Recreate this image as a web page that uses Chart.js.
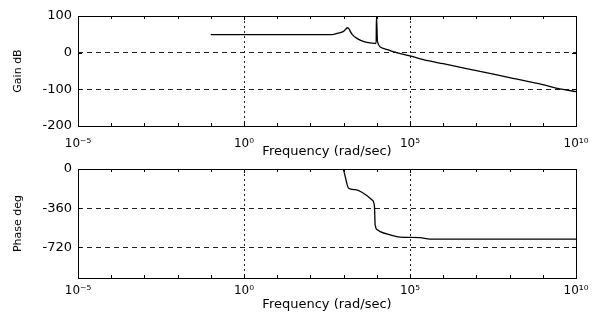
<!DOCTYPE html>
<html>
<head>
<meta charset="utf-8">
<script src="https://cdn.jsdelivr.net/npm/chart.js@4.4.1/dist/chart.umd.min.js"></script>
<style>
  html, body { margin: 0; padding: 0; background: #fff; }
  #wrap { position: relative; width: 606px; height: 318px; }
  canvas { position: absolute; left: 0; }
  #gainChart { top: 0; }
  #phaseChart { top: 155px; }
</style>
</head>
<body>
<div id="wrap">
  <canvas id="gainChart" width="606" height="160" style="width:606px;height:160px"></canvas>
  <canvas id="phaseChart" width="606" height="163" style="width:606px;height:163px"></canvas>
</div>
<script>
// frequency ticks (rad/sec)
const freqTicks = [1e-5, 1, 1e5, 1e10];
const freqTickLabels = ['10⁻⁵', '10⁰', '10⁵', '10¹⁰'];

// gain curve
const gainFreq = [0.1, 447, 676, 1000, 1318, 1800, 2512, 3548, 5012, 7079, 9550, 9772, 9800, 10470, 15500, 30900, 1e5, 3.47e5, 1e6, 1e7, 1e8, 1e9, 3.3e9, 1e10];
const gainDb   = [49, 49, 53, 58, 68, 50, 39, 32, 28, 26, 25, 100, 100, 30, 12, 2.6, -9, -22, -30, -49, -68, -87, -99, -106];
const gainTicks = [100, 0, -100, -200];

// phase curve
const phaseFreq = [0.1, 933, 1413, 2239, 3548, 7244, 8511, 8913, 10470, 12590, 25120, 50120, 2e5, 3.98e5, 1e10];
const phaseDeg  = [0, 0, -177, -190, -213, -284, -345, -513, -559, -574, -604, -625, -630, -644, -644];
const phaseTicks = [0, -360, -720];

const FONT = "'DejaVu Sans', sans-serif";

function toPoints(xs, ys) {
  return xs.map((x, i) => ({ x: x, y: ys[i] }));
}

// frame and inward tick marks, matlab style
const framePlugin = {
  id: 'frame',
  afterDraw(chart) {
    const { ctx, chartArea: a, scales } = chart;
    ctx.save();
    ctx.strokeStyle = '#000';
    ctx.lineWidth = 1;
    ctx.strokeRect(a.left + 0.5, a.top + 0.5, a.right - a.left, a.bottom - a.top);
    ctx.beginPath();
    for (let k = -5; k <= 10; k++) {
      const px = Math.round(scales.x.getPixelForValue(Math.pow(10, k))) + 0.5;
      const len = (k % 5 === 0) ? 4 : 3;
      ctx.moveTo(px, a.top); ctx.lineTo(px, a.top + len);
      ctx.moveTo(px, a.bottom); ctx.lineTo(px, a.bottom - len);
    }
    scales.y.ticks.forEach(t => {
      const py = Math.round(scales.y.getPixelForValue(t.value)) + 0.5;
      ctx.moveTo(a.left, py); ctx.lineTo(a.left + 4, py);
      ctx.moveTo(a.right, py); ctx.lineTo(a.right - 4, py);
    });
    ctx.stroke();
    ctx.restore();
  }
};

function makeChart(id, xs, ys, yMin, yMax, yTicks, yTitle, padTop, padBottom, xAxisHeight, tickPad) {
  return new Chart(document.getElementById(id), {
    type: 'line',
    data: {
      datasets: [{
        data: toPoints(xs, ys),
        borderColor: '#000',
        borderWidth: 1.3,
        pointRadius: 0,
        cubicInterpolationMode: 'monotone',
        fill: false
      }]
    },
    options: {
      responsive: false,
      animation: false,
      layout: { padding: { top: padTop, right: 30, left: 0, bottom: padBottom } },
      plugins: { legend: { display: false }, tooltip: { enabled: false } },
      scales: {
        x: {
          type: 'logarithmic',
          min: 1e-5,
          max: 1e10,
          afterBuildTicks: s => { s.ticks = freqTicks.map(v => ({ value: v })); },
          afterFit: s => { s.height = xAxisHeight; },
          ticks: {
            color: '#000',
            font: { family: FONT, size: 12 },
            padding: tickPad,
            maxRotation: 0,
            autoSkip: false,
            callback: (v, i) => freqTickLabels[i]
          },
          grid: {
            color: ctx => (ctx.index === 1 || ctx.index === 2) ? '#222' : 'rgba(0,0,0,0)',
            lineWidth: 1,
            drawTicks: false
          },
          border: { display: false, dash: [2, 3] },
          title: {
            display: true,
            text: 'Frequency (rad/sec)',
            color: '#000',
            font: { family: FONT, size: 13 },
            padding: { top: 1, bottom: 0 }
          }
        },
        y: {
          min: yMin,
          max: yMax,
          afterBuildTicks: s => { s.ticks = yTicks.map(v => ({ value: v })); },
          afterFit: s => { s.width = 78; },
          ticks: {
            color: '#000',
            font: { family: FONT, size: 13 },
            padding: 6
          },
          grid: {
            color: ctx => (ctx.tick && ctx.tick.value !== yMin && ctx.tick.value !== yMax) ? '#222' : 'rgba(0,0,0,0)',
            lineWidth: 1,
            drawTicks: false
          },
          border: { display: false, dash: [5, 4] },
          title: {
            display: true,
            text: yTitle,
            color: '#000',
            font: { family: FONT, size: 11 },
            padding: { top: 12, bottom: 0 }
          }
        }
      }
    },
    plugins: [framePlugin]
  });
}

makeChart('gainChart', gainFreq, gainDb, -200, 100, gainTicks, 'Gain dB', 16, 1, 33, 11);
makeChart('phaseChart', phaseFreq, phaseDeg, -1000, 0, phaseTicks, 'Phase deg', 14, 6, 34, 6);
</script>
</body>
</html>
